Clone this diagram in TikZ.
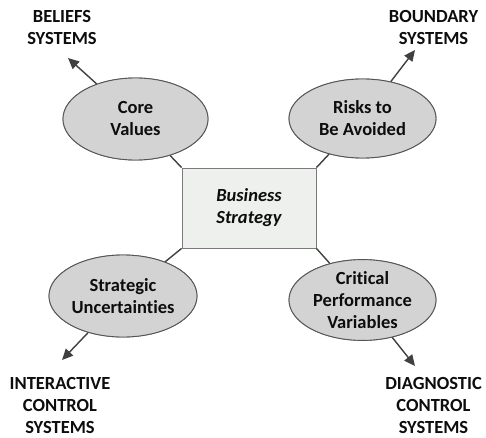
\documentclass[tikz,border=0pt]{standalone}
\usepackage{fontspec}
\setmainfont{Carlito}[Ligatures=NoCommon]
\usetikzlibrary{shapes.geometric,arrows.meta}
\definecolor{ellfill}{HTML}{D3D3D3}
\definecolor{ellline}{HTML}{555555}
\definecolor{boxfill}{HTML}{EEF0EE}
\definecolor{boxline}{HTML}{7A7A7A}
\definecolor{conn}{HTML}{404040}
\definecolor{txt}{HTML}{0D0D0D}
\begin{document}
\begin{tikzpicture}[x=1pt,y=1pt,
  oval/.style={ellipse, draw=ellline, fill=ellfill, line width=0.9pt, inner sep=0pt,
     text=txt, font=\fontsize{18.5}{22}\selectfont\bfseries, align=center},
  centerbox/.style={rectangle, draw=boxline, fill=boxfill, line width=0.9pt, inner sep=0pt,
     text=txt, font=\fontsize{18.5}{22}\selectfont\bfseries\itshape, align=center},
  lbl/.style={text=txt, font=\fontsize{18.5}{22}\selectfont\bfseries, align=center, inner sep=0pt},
  link/.style={draw=conn, line width=1.4pt},
  arr/.style={draw=conn, line width=1.4pt, -{Triangle[length=11pt,width=10pt]}}]
\useasboundingbox (0,0) rectangle (486,437);
% center box
\node[centerbox, minimum width=134pt, minimum height=80pt] (bs) at (249,229) {Business\\Strategy};
% ellipses
\node[oval, minimum width=145pt, minimum height=82pt] (cv) at (135.5,318) {Core\\Values};
\node[oval, minimum width=147pt, minimum height=79pt] (ra) at (362.5,318.5) {Risks to\\Be Avoided};
\node[oval, minimum width=148pt, minimum height=82pt] (su) at (123,141) {Strategic\\Uncertainties};
\node[oval, minimum width=147pt, minimum height=76pt] (cp) at (362.5,137) {Critical\\Performance\\Variables};
% labels
\node[lbl] (bel) at (62,409.5) {BELIEFS\\SYSTEMS};
\node[lbl] (bou) at (433.5,409.5) {BOUNDARY\\SYSTEMS};
\node[lbl] (int) at (60,32) {INTERACTIVE\\CONTROL\\SYSTEMS};
\node[lbl] (dia) at (433.5,32) {DIAGNOSTIC\\CONTROL\\SYSTEMS};
% arrow tips
\coordinate (tcv) at (68,379);
\coordinate (tra) at (415,387);
\coordinate (tsu) at (62,77);
\coordinate (tcp) at (415,71);
% connectors
\draw[link] (bs.north west) -- (cv);
\draw[link] (bs.north east) -- (ra);
\draw[link] (bs.south west) -- (su);
\draw[link] (bs.south east) -- (cp);
\draw[arr] (cv) -- (tcv);
\draw[arr] (ra) -- (tra);
\draw[arr] (su) -- (tsu);
\draw[arr] (cp) -- (tcp);
% redraw ellipses over connectors
\node[oval, minimum width=145pt, minimum height=82pt] at (135.5,318) {Core\\Values};
\node[oval, minimum width=147pt, minimum height=79pt] at (362.5,318.5) {Risks to\\Be Avoided};
\node[oval, minimum width=148pt, minimum height=82pt] at (123,141) {Strategic\\Uncertainties};
\node[oval, minimum width=147pt, minimum height=76pt] at (362.5,137) {Critical\\Performance\\Variables};
\end{tikzpicture}
\end{document}
